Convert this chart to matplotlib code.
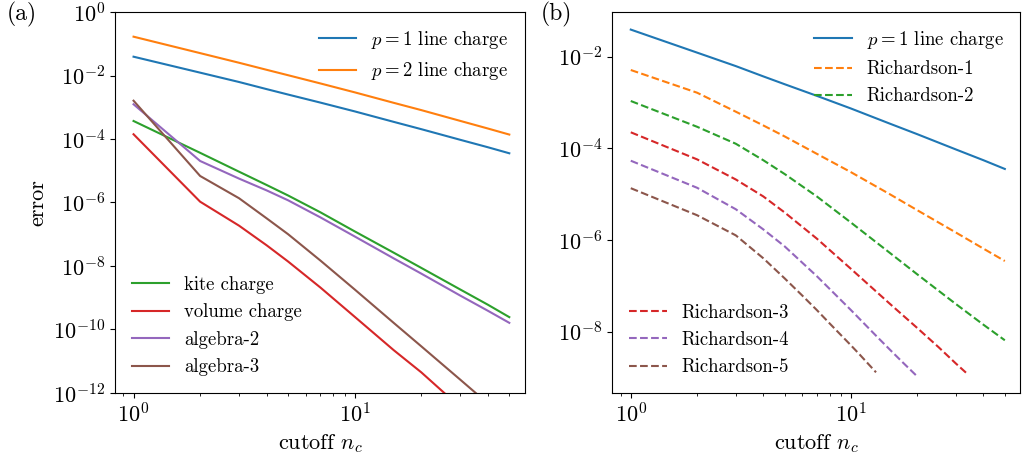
import matplotlib
matplotlib.use("Agg")
import matplotlib.pyplot as plt
from matplotlib.ticker import FixedLocator, NullLocator, LogLocator

plt.rcParams['font.family'] = 'serif'
plt.rcParams['font.serif'] = ['cmr10', 'DejaVu Serif']
plt.rcParams['mathtext.fontset'] = 'cm'
plt.rcParams['axes.formatter.use_mathtext'] = True
plt.rcParams['axes.unicode_minus'] = False
plt.rcParams['font.size'] = 16
plt.rcParams['legend.fontsize'] = 13.5

# ---------------- data: panel (a) ----------------
n_a = [1, 2, 3, 4, 5, 7, 10, 15, 20, 30, 40, 50]
p1_line = [3.91e-2, 1.23e-2, 6.24e-3, 3.72e-3, 2.51e-3, 1.40e-3, 7.41e-4, 3.47e-4, 2.04e-4, 9.44e-5, 5.50e-5, 3.55e-5]
p2_line = [0.167, 5.07e-2, 2.52e-2, 1.51e-2, 1.02e-2, 5.62e-3, 2.95e-3, 1.38e-3, 8.13e-4, 3.72e-4, 2.14e-4, 1.38e-4]
kite = [3.69e-4, 3.67e-5, 9.33e-6, 3.55e-6, 1.66e-6, 4.90e-7, 1.23e-7, 2.63e-8, 8.71e-9, 1.82e-9, 6.03e-10, 2.45e-10]
volume = [1.41e-4, 1.06e-6, 1.86e-7, 4.47e-8, 1.38e-8, 2.09e-9, 2.51e-10, 2.24e-11, 4.47e-12, 3.55e-13, 6.31e-14, 1.66e-14]
algebra2 = [1.24e-3, 2.03e-5, 5.65e-6, 2.40e-6, 1.17e-6, 3.39e-7, 8.51e-8, 1.74e-8, 5.75e-9, 1.17e-9, 3.89e-10, 1.62e-10]
algebra3 = [1.61e-3, 6.84e-6, 1.36e-6, 3.16e-7, 1.0e-7, 1.48e-8, 1.82e-9, 1.62e-10, 2.95e-11, 2.63e-12, 4.68e-13, 1.26e-13]

# ---------------- data: panel (b) ----------------
n_r12 = [1, 2, 3, 4, 5, 7, 10, 15, 20, 30, 40, 50]
rich1 = [5.13e-3, 1.64e-3, 6.31e-4, 3.16e-4, 1.82e-4, 7.59e-5, 3.02e-5, 1.0e-5, 4.47e-6, 1.45e-6, 6.46e-7, 3.47e-7]
rich2 = [1.08e-3, 2.96e-4, 1.26e-4, 5.50e-5, 2.75e-5, 8.91e-6, 2.40e-6, 5.25e-7, 1.78e-7, 3.98e-8, 1.41e-8, 6.46e-9]
n_r3 = [1, 2, 3, 4, 5, 7, 10, 15, 20, 25, 30, 34]
rich3 = [2.24e-4, 5.75e-5, 2.09e-5, 8.91e-6, 3.98e-6, 1.07e-6, 2.34e-7, 4.07e-8, 1.20e-8, 4.57e-9, 2.0e-9, 1.16e-9]
n_r4 = [1, 2, 3, 4, 5, 7, 10, 13, 15, 17, 20]
rich4 = [5.37e-5, 1.38e-5, 4.68e-6, 1.70e-6, 7.24e-7, 1.62e-7, 2.95e-8, 8.13e-9, 4.07e-9, 2.24e-9, 1.05e-9]
n_r5 = [1, 2, 3, 4, 5, 6, 7, 8, 10, 11, 13]
rich5 = [1.35e-5, 3.47e-6, 1.26e-6, 3.98e-7, 1.45e-7, 6.17e-8, 2.95e-8, 1.51e-8, 5.01e-9, 3.09e-9, 1.29e-9]

fig = plt.figure(figsize=(10.22, 4.62), dpi=100)
ax1 = fig.add_axes([0.1125, 0.1494, 0.5137 - 0.1125, 0.974 - 0.1494])
ax2 = fig.add_axes([0.5991, 0.1494, 0.9985 - 0.5991, 0.974 - 0.1494])

xlim = (10 ** -0.084, 10 ** 1.770)

# panel (a)
l1, = ax1.plot(n_a, p1_line, color='C0', label=r'$p=1$ line charge')
l2, = ax1.plot(n_a, p2_line, color='C1', label=r'$p=2$ line charge')
l3, = ax1.plot(n_a, kite, color='C2', label='kite charge')
l4, = ax1.plot(n_a, volume, color='C3', label='volume charge')
l5, = ax1.plot(n_a, algebra2, color='C4', label='algebra-2')
l6, = ax1.plot(n_a, algebra3, color='C5', label='algebra-3')
ax1.set_xscale('log')
ax1.set_yscale('log')
ax1.set_xlim(*xlim)
ax1.set_ylim(1e-12, 1e0)
ax1.yaxis.set_major_locator(FixedLocator([1e-12, 1e-10, 1e-8, 1e-6, 1e-4, 1e-2, 1e0]))
ax1.yaxis.set_minor_locator(NullLocator())
ax1.set_xlabel(r'cutoff $n_c$')
ax1.set_ylabel('error')
leg1 = ax1.legend(handles=[l1, l2], loc='upper right', frameon=False)
ax1.add_artist(leg1)
ax1.legend(handles=[l3, l4, l5, l6], loc='lower left', frameon=False)

# panel (b)
m1, = ax2.plot(n_a, p1_line, color='C0', label=r'$p=1$ line charge')
m2, = ax2.plot(n_r12, rich1, color='C1', ls='--', label='Richardson-1')
m3, = ax2.plot(n_r12, rich2, color='C2', ls='--', label='Richardson-2')
m4, = ax2.plot(n_r3, rich3, color='C3', ls='--', label='Richardson-3')
m5, = ax2.plot(n_r4, rich4, color='C4', ls='--', label='Richardson-4')
m6, = ax2.plot(n_r5, rich5, color='C5', ls='--', label='Richardson-5')
ax2.set_xscale('log')
ax2.set_yscale('log')
ax2.set_xlim(*xlim)
ax2.set_ylim(10 ** -9.34, 10 ** -1.024)
ax2.yaxis.set_major_locator(FixedLocator([1e-8, 1e-6, 1e-4, 1e-2]))
ax2.yaxis.set_minor_locator(NullLocator())
ax2.set_xlabel(r'cutoff $n_c$')
leg2 = ax2.legend(handles=[m1, m2, m3], loc='upper right', frameon=False)
ax2.add_artist(leg2)
ax2.legend(handles=[m4, m5, m6], loc='lower left', frameon=False)

for ax in (ax1, ax2):
    ax.xaxis.set_major_locator(LogLocator(base=10))
    ax.xaxis.set_minor_locator(LogLocator(base=10, subs=range(2, 10)))

fig.text(0.0215, 0.968, '(a)', fontsize=17, ha='center', va='center')
fig.text(0.5445, 0.968, '(b)', fontsize=17, ha='center', va='center')

fig.savefig('out.png', dpi=100)
